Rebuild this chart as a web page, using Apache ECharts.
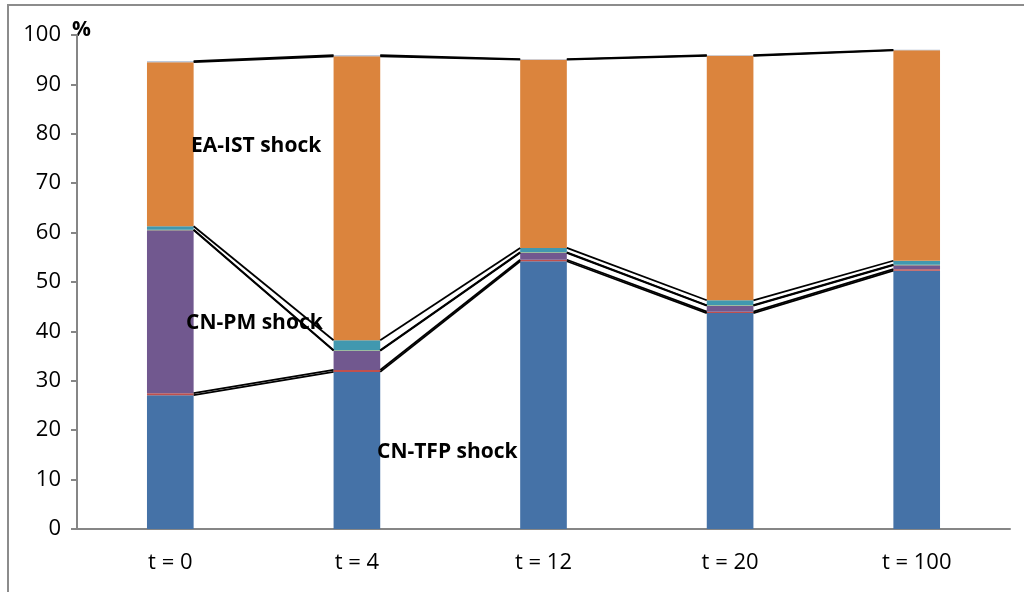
<!DOCTYPE html>
<html>
<head>
<meta charset="utf-8">
<title>Variance decomposition</title>
<script src="https://cdn.jsdelivr.net/npm/echarts@6/dist/echarts.min.js"></script>
<style>
  html, body { margin: 0; padding: 0; background: #fff; }
  #chart { width: 1024px; height: 592px; }
</style>
</head>
<body>
<div id="chart"></div>
<script>
// Horizons
const categories = ['t = 0', 't = 4', 't = 12', 't = 20', 't = 100'];

// Shares of variance (%) by shock, stacked bottom to top
const cnTfp   = [27.1, 31.8, 54.2, 43.7, 52.3];
const cnOther = [0.4, 0.4, 0.3, 0.3, 0.3];
const cnPm    = [33.0, 3.9, 1.4, 1.2, 0.8];
const eaMinor = [0.1, 0.1, 0.1, 0.1, 0.1];
const eaTeal  = [0.7, 2.0, 0.9, 1.0, 0.8];
const eaIst   = [33.2, 57.5, 38.1, 49.5, 42.6];
const rest    = [0.2, 0.2, 0.1, 0.1, 0.1];

const yTicks = { min: 0, max: 100, interval: 10 };

const stackParts = [
  { name: 'CN-TFP shock', data: cnTfp,   color: '#4572A7' },
  { name: 'CN other',     data: cnOther, color: '#C0504D' },
  { name: 'CN-PM shock',  data: cnPm,    color: '#71588F' },
  { name: 'EA minor',     data: eaMinor, color: '#9BBB59' },
  { name: 'EA other',     data: eaTeal,  color: '#4198AF' },
  { name: 'EA-IST shock', data: eaIst,   color: '#DB843D' },
  { name: 'Rest',         data: rest,    color: '#A9B7D0' }
];

// cumulative tops of every stacked segment, used for the connector lines
const cumulative = [];
{
  let running = categories.map(() => 0);
  stackParts.forEach(p => {
    running = running.map((v, i) => v + p.data[i]);
    cumulative.push(running.slice());
  });
}

const BAR_FRACTION = 0.25;

const barSeries = stackParts.map(p => ({
  name: p.name,
  type: 'bar',
  stack: 'total',
  barWidth: (BAR_FRACTION * 100) + '%',
  data: p.data,
  itemStyle: { color: p.color },
  emphasis: { disabled: true },
  silent: true
}));

// connector lines between neighbouring bars at every segment boundary
const connectorSeries = {
  type: 'custom',
  silent: true,
  z: 5,
  data: categories.slice(0, -1).map((c, i) => [i]),
  renderItem: function (params, api) {
    const i = api.value(0);
    const bandW = api.size([1, 0])[0];
    const halfBar = bandW * BAR_FRACTION / 2;
    const children = [];
    cumulative.forEach(level => {
      const p0 = api.coord([i, level[i]]);
      const p1 = api.coord([i + 1, level[i + 1]]);
      children.push({
        type: 'line',
        shape: { x1: p0[0] + halfBar, y1: p0[1], x2: p1[0] - halfBar, y2: p1[1] },
        style: { stroke: '#000', lineWidth: 1.8 }
      });
    });
    return { type: 'group', children: children };
  }
};

const chart = echarts.init(document.getElementById('chart'), null, { renderer: 'canvas' });

const fontFamily = '"Open Sans", "Liberation Sans", sans-serif';

chart.setOption({
  animation: false,
  backgroundColor: '#fff',
  grid: { left: 77, right: 14, top: 35, bottom: 63 },
  xAxis: {
    type: 'category',
    data: categories,
    axisLine: { lineStyle: { color: '#868686', width: 2 } },
    axisTick: { show: false },
    axisLabel: { color: '#000', fontSize: 22, fontFamily: fontFamily, margin: 23 }
  },
  yAxis: {
    type: 'value',
    min: yTicks.min,
    max: yTicks.max,
    interval: yTicks.interval,
    splitLine: { show: false },
    axisLine: { show: true, lineStyle: { color: '#868686', width: 2 } },
    axisTick: { show: true, length: 6, lineStyle: { color: '#868686', width: 2 } },
    axisLabel: { color: '#000', fontSize: 22, fontFamily: fontFamily, margin: 16 }
  },
  series: barSeries.concat([connectorSeries]),
  graphic: [
    {
      type: 'rect', silent: true, z: -1,
      shape: { x: 8, y: 5, width: 1040, height: 620 },
      style: { fill: 'none', stroke: '#8c8c8c', lineWidth: 2 }
    },
    {
      type: 'text', left: 72, top: 20, silent: true,
      style: { text: '%', font: 'bold 21px ' + fontFamily, fill: '#000' }
    },
    {
      type: 'text', left: 191, top: 136, silent: true, z: 10,
      style: { text: 'EA-IST shock', font: 'bold 21px ' + fontFamily, fill: '#000' }
    },
    {
      type: 'text', left: 186, top: 313, silent: true, z: 10,
      style: { text: 'CN-PM shock', font: 'bold 21px ' + fontFamily, fill: '#000' }
    },
    {
      type: 'text', left: 377, top: 442, silent: true, z: 10,
      style: { text: 'CN-TFP shock', font: 'bold 21px ' + fontFamily, fill: '#000' }
    }
  ]
});
</script>
</body>
</html>
